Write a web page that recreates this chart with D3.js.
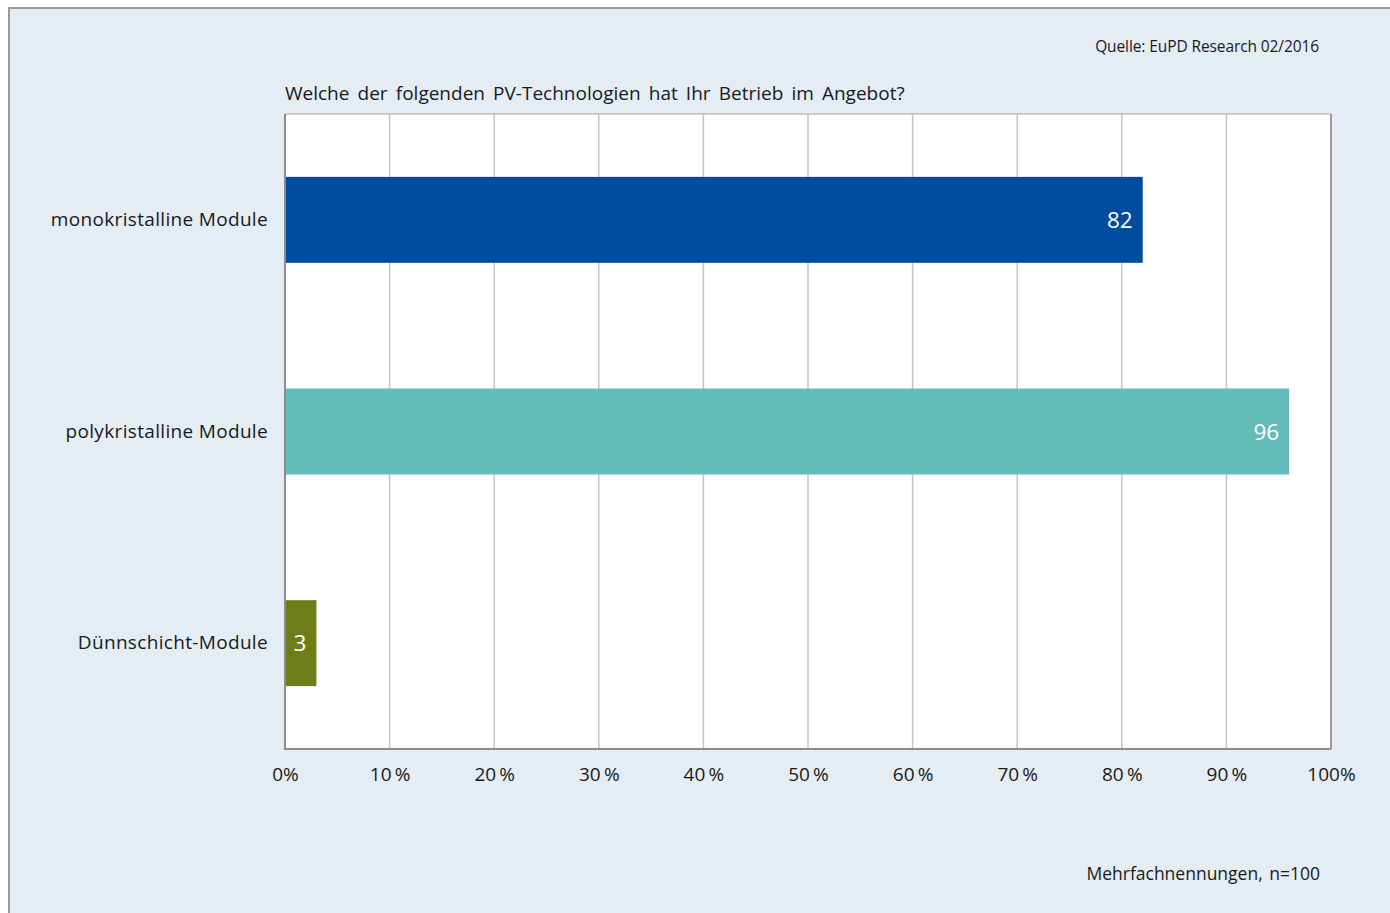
<!DOCTYPE html>
<html>
<head>
<meta charset="utf-8">
<script src="https://cdn.jsdelivr.net/npm/d3@7"></script>
<style>
  html, body { margin: 0; padding: 0; background: #ffffff; }
  svg { display: block; }
  text { font-family: "Open Sans", "Noto Sans", sans-serif; fill: #1a1a1a; }
</style>
</head>
<body>
<svg id="chart" width="1390" height="913"></svg>
<script>
// Survey results: share of installers offering each PV module technology
const categories = ["monokristalline Module", "polykristalline Module", "Dünnschicht-Module"];
const values = [82, 96, 3];
const barColors = ["#004c9e", "#63bcb9", "#6f7d18"];
const tickValues = [0, 10, 20, 30, 40, 50, 60, 70, 80, 90, 100];
const tickLabels = ["0%", "10\u2009%", "20\u2009%", "30\u2009%", "40\u2009%", "50\u2009%", "60\u2009%", "70\u2009%", "80\u2009%", "90\u2009%", "100%"];

const titleText = "Welche der folgenden PV-Technologien hat Ihr Betrieb im Angebot?";
const sourceText = "Quelle: EuPD Research 02/2016";
const noteText = "Mehrfachnennungen, n=100";

const svg = d3.select("#chart");

// outer panel
svg.append("rect")
  .attr("x", 9).attr("y", 8)
  .attr("width", 1400).attr("height", 920)
  .attr("fill", "#e4ecf4")
  .attr("stroke", "#9a9a9a")
  .attr("stroke-width", 2);

const plot = { left: 285, top: 114, right: 1331, bottom: 749 };

const x = d3.scaleLinear().domain([0, 100]).range([plot.left, plot.right]);
const y = d3.scaleBand()
  .domain(categories)
  .range([plot.top, plot.bottom])
  .paddingInner(0.594)
  .paddingOuter(0.297);

// plot background
svg.append("rect")
  .attr("x", plot.left).attr("y", plot.top)
  .attr("width", plot.right - plot.left).attr("height", plot.bottom - plot.top)
  .attr("fill", "#ffffff")
  .attr("stroke", "#a0a0a0")
  .attr("stroke-width", 1);

// vertical gridlines
svg.append("g")
  .selectAll("line")
  .data(tickValues.filter(d => d > 0 && d < 100))
  .join("line")
  .attr("x1", d => x(d)).attr("x2", d => x(d))
  .attr("y1", plot.top).attr("y2", plot.bottom)
  .attr("stroke", "#c4c4c4")
  .attr("stroke-width", 1.5);

// right frame
svg.append("line")
  .attr("x1", plot.right).attr("x2", plot.right)
  .attr("y1", plot.top).attr("y2", plot.bottom)
  .attr("stroke", "#8c8c8c").attr("stroke-width", 1.5);

// bars
svg.append("g")
  .selectAll("rect")
  .data(categories)
  .join("rect")
  .attr("x", x(0))
  .attr("y", d => y(d))
  .attr("width", (d, i) => x(values[i]) - x(0))
  .attr("height", y.bandwidth())
  .attr("fill", (d, i) => barColors[i]);

// value labels inside bars
svg.append("g")
  .selectAll("text")
  .data(categories)
  .join("text")
  .attr("x", (d, i) => x(values[i]) - 10)
  .attr("y", d => y(d) + y.bandwidth() / 2)
  .attr("dy", "0.37em")
  .attr("text-anchor", "end")
  .style("fill", "#ffffff")
  .style("font-size", "22.5px")
  .text((d, i) => values[i]);

// axis lines (left and bottom)
svg.append("line")
  .attr("x1", plot.left).attr("x2", plot.left)
  .attr("y1", plot.top).attr("y2", plot.bottom + 1)
  .attr("stroke", "#8c8c8c").attr("stroke-width", 2);
svg.append("line")
  .attr("x1", plot.left).attr("x2", plot.right)
  .attr("y1", plot.bottom).attr("y2", plot.bottom)
  .attr("stroke", "#8c8c8c").attr("stroke-width", 2);

// x tick labels
const xAxis = d3.axisBottom(x)
  .tickValues(tickValues)
  .tickFormat((d, i) => tickLabels[i])
  .tickSize(0)
  .tickPadding(0);
const gx = svg.append("g")
  .attr("transform", `translate(0,${plot.bottom})`)
  .call(xAxis);
gx.select(".domain").remove();
gx.selectAll("text")
  .attr("y", 32)
  .attr("dy", 0)
  .style("font-size", "19px")
  .style("font-family", "'Open Sans', sans-serif")
  .style("fill", "#1a1a1a");

// category labels
const yAxis = d3.axisLeft(y).tickSize(0).tickPadding(17);
const gy = svg.append("g")
  .attr("transform", `translate(${plot.left},0)`)
  .call(yAxis);
gy.select(".domain").remove();
gy.selectAll("text")
  .style("font-size", "19px")
  .style("letter-spacing", "0.33px")
  .style("font-family", "'Open Sans', sans-serif")
  .style("fill", "#1a1a1a");

// title
svg.append("text")
  .attr("x", plot.left)
  .attr("y", 100)
  .style("font-size", "19px")
  .style("word-spacing", "3.2px")
  .text(titleText);

// source
svg.append("text")
  .attr("x", 1319)
  .attr("y", 52)
  .attr("text-anchor", "end")
  .style("font-size", "15.5px")
  .style("letter-spacing", "-0.1px")
  .text(sourceText);

// footnote
svg.append("text")
  .attr("x", 1320)
  .attr("y", 880)
  .attr("text-anchor", "end")
  .style("font-size", "17.5px")
  .style("word-spacing", "2px")
  .text(noteText);
</script>
</body>
</html>
